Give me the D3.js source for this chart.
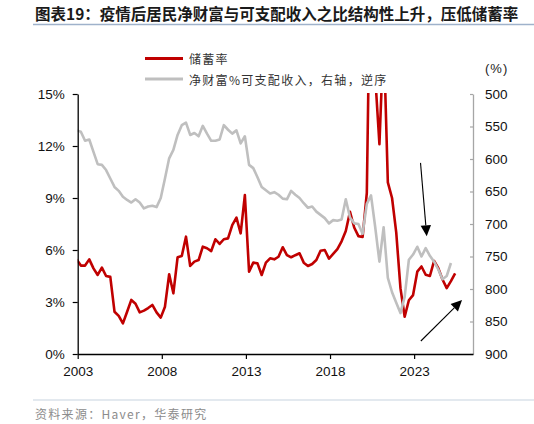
<!DOCTYPE html>
<html><head><meta charset="utf-8">
<script src="https://cdn.jsdelivr.net/npm/d3@7/dist/d3.min.js"></script>
<style>
body{margin:0;background:#fff;}
svg{display:block;}
</style>
</head><body><div id="chart"></div>
<script>
// ---------- data ----------
const startQuarter = "2002Q4";
// personal savings rate, % (left axis)
const savingsRate = [
 5.46,5.1,5.1,5.46,4.94,4.56,4.98,4.5,4.45,2.44,
 2.2,1.77,2.44,3.12,2.9,2.4,2.5,2.65,2.83,2.4,
 2.1,2.73,4.6,3.5,5.58,5.65,6.77,5.08,5.33,5.42,
 6.19,6.1,5.94,6.62,6.35,6.62,6.67,7.44,7.87,6.96,
 9.17,4.75,5.27,5.23,4.56,5.27,5.52,5.46,5.61,6.16,
 5.71,5.58,5.7,5.81,5.27,5.08,5.19,5.42,5.96,6.0,
 5.5,5.77,6.05,6.5,7.1,8.2,7.3,6.8,6.75,9.3,
 26,16,12.1,18.5,9.9,9.0,7.0,3.8,2.15,3.1,
 3.4,4.75,5.05,4.57,4.5,5.37,4.95,4.3,3.8,4.2,
 4.65
];
// net wealth / disposable income, % (right axis, reversed)
const wealthToIncome = [
 556,558,572,570,589,608,609,617,630,643,
 649,658,663,667,662,667,676,673,672,674,
 660,630,599,586,563,548,544,563,560,565,
 549,561,572,572,570,548,555,561,556,576,
 565,609,614,628,643,648,653,651,655,661,
 662,649,655,660,668,675,673,681,686,691,
 699,694,695,693,662,690,699,700,715,669,
 656,705,758,705,783,805,821,837,812,755,
 747,735,750,737,749,758,770,785,780,760
];
const xTickYears = [2003, 2008, 2013, 2018, 2023];
const leftTicks = [0, 3, 6, 9, 12, 15];
const rightTicks = [500, 550, 600, 650, 700, 750, 800, 850, 900];
const titleText = "图表19：疫情后居民净财富与可支配收入之比结构性上升，压低储蓄率";
const legendLabels = ["储蓄率", "净财富%可支配收入，右轴，逆序"];
const unitText = "(%)";
const sourceText = "资料来源：Haver，华泰研究";
// annotation arrows: [yearFrom, rightValueFrom, yearTo, rightValueTo]
const arrows = [
  [2023.38, 606, 2023.75, 719],
  [2023.40, 880, 2025.85, 817]
];

// ---------- layout ----------
const W = 534, H = 424;
const mLeft = 77.7, mRight = 473, mTop = 94, mBottom = 354;
const cjk = "'Noto Sans CJK SC','Noto Sans',sans-serif";
const latin = "'Liberation Sans',Arial,sans-serif";
const red = "#c00000", grey = "#bfbfbf";

function quarterPos(start, i) {
  const y = +start.slice(0, 4), q = +start.slice(5);
  return y + (q - 1) * 0.25 + 0.1875 + i * 0.25;
}

const x = d3.scaleLinear().domain([2003, 2026.5]).range([mLeft, mRight]);
const yL = d3.scaleLinear().domain([0, 15]).range([mBottom, mTop]);
const yR = d3.scaleLinear().domain([500, 900]).range([mTop, mBottom]);

const svg = d3.select("#chart").append("svg").attr("width", W).attr("height", H);
svg.append("rect").attr("width", W).attr("height", H).attr("fill", "#fff");

// title
svg.append("text").attr("x", 35).attr("y", 20)
  .attr("font-family", cjk).attr("font-weight", 700).attr("font-size", 15.5)
  .attr("fill", "#1a1a1a").text(titleText);
svg.append("line").attr("x1", 33).attr("x2", W).attr("y1", 24.5).attr("y2", 24.5)
  .attr("stroke", "#9fb2cb").attr("stroke-width", 1.5);

// legend
const leg = svg.append("g");
[[red, 58.5], [grey, 79]].forEach((d, i) => {
  leg.append("line").attr("x1", 145).attr("x2", 183).attr("y1", d[1]).attr("y2", d[1])
    .attr("stroke", d[0]).attr("stroke-width", 3);
  leg.append("text").attr("x", 189).attr("y", d[1]).attr("dominant-baseline", "central")
    .attr("font-family", cjk).attr("font-size", 12).attr("letter-spacing", 1.3)
    .attr("fill", "#333").text(legendLabels[i]);
});
svg.append("text").attr("x", 485).attr("y", 68).attr("dominant-baseline", "central")
  .attr("font-family", latin).attr("font-size", 13).attr("letter-spacing", 1)
  .attr("fill", "#222").text(unitText);

// clip
svg.append("clipPath").attr("id", "plot").append("rect")
  .attr("x", mLeft).attr("y", mTop - 1).attr("width", mRight - mLeft).attr("height", mBottom - mTop + 2);

const redPts = savingsRate.map((v, i) => [quarterPos(startQuarter, i), v]);
const greyPts = wealthToIncome.map((v, i) => [quarterPos(startQuarter, i), v]);

const g = svg.append("g").attr("clip-path", "url(#plot)");
g.append("path").datum(redPts)
  .attr("d", d3.line().x(d => x(d[0])).y(d => yL(d[1])))
  .attr("fill", "none").attr("stroke", red).attr("stroke-width", 2.6).attr("stroke-linejoin", "round");
g.append("path").datum(greyPts)
  .attr("d", d3.line().x(d => x(d[0])).y(d => yR(d[1])))
  .attr("fill", "none").attr("stroke", grey).attr("stroke-width", 2.6).attr("stroke-linejoin", "round");

// axes
const axL = svg.append("g").attr("transform", `translate(${mLeft},0)`)
  .call(d3.axisLeft(yL).tickValues(leftTicks).tickFormat(d => d + "%").tickSize(5).tickPadding(8).tickSizeOuter(0));
axL.select(".domain").attr("stroke", "#000").attr("stroke-width", 1.3);
axL.selectAll(".tick line").attr("stroke", "#000").attr("stroke-width", 1.2);
axL.selectAll("text").attr("font-family", latin).attr("font-size", 13.5).attr("fill", "#111");

const axR = svg.append("g").attr("transform", `translate(${mRight},0)`)
  .call(d3.axisRight(yR).tickValues(rightTicks).tickSize(-3).tickPadding(12).tickSizeOuter(0));
axR.select(".domain").attr("stroke", "#a6a6a6").attr("stroke-width", 1.3);
axR.selectAll(".tick line").attr("stroke", "#a6a6a6").attr("stroke-width", 1.2);
axR.selectAll("text").attr("font-family", latin).attr("font-size", 13.5).attr("fill", "#111");

const axB = svg.append("g").attr("transform", `translate(0,${mBottom})`)
  .call(d3.axisBottom(x).tickValues(xTickYears).tickFormat(d3.format("d")).tickSize(5).tickPadding(7).tickSizeOuter(0));
axB.select(".domain").attr("stroke", "#000").attr("stroke-width", 1.3);
axB.selectAll(".tick line").attr("stroke", "#000").attr("stroke-width", 1.2);
axB.selectAll("text").attr("font-family", latin).attr("font-size", 13.5).attr("fill", "#111");

// arrows
arrows.forEach(a => {
  const x1 = x(a[0]), y1 = yR(a[1]), x2 = x(a[2]), y2 = yR(a[3]);
  const ang = Math.atan2(y2 - y1, x2 - x1);
  const len = 11, hw = 5.2;
  const bx = x2 - len * Math.cos(ang), by = y2 - len * Math.sin(ang);
  svg.append("line").attr("x1", x1).attr("y1", y1).attr("x2", bx).attr("y2", by)
    .attr("stroke", "#000").attr("stroke-width", 1.1);
  const px = -Math.sin(ang) * hw, py = Math.cos(ang) * hw;
  svg.append("path").attr("d", `M${x2},${y2}L${bx + px},${by + py}L${bx - px},${by - py}Z`)
    .attr("fill", "#000");
});

// source
svg.append("line").attr("x1", 33).attr("x2", W).attr("y1", 400).attr("y2", 400)
  .attr("stroke", "#c8d3e0").attr("stroke-width", 1.2);
svg.append("text").attr("x", 35).attr("y", 419)
  .attr("font-family", cjk).attr("font-size", 12).attr("letter-spacing", 1.3)
  .attr("fill", "#8c8c8c").text(sourceText);
</script>
</body></html>
